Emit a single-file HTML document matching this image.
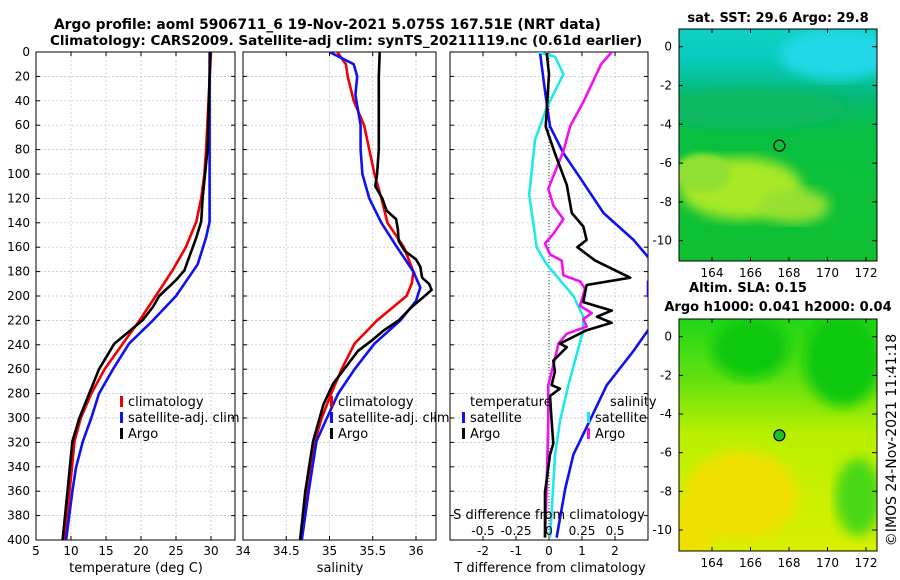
<!DOCTYPE html>
<html><head><meta charset="utf-8"><style>
html,body{margin:0;padding:0;background:#fff}
svg{display:block;font-family:"DejaVu Sans","Liberation Sans",sans-serif}
</style></head><body>
<svg id="s" width="900" height="580" viewBox="0 0 900 580" xmlns="http://www.w3.org/2000/svg">
<defs>
<linearGradient id="sstg" x1="0" y1="0" x2="0" y2="1">
<stop offset="0" stop-color="#10d0c0"/><stop offset="0.12" stop-color="#08ccc0"/><stop offset="0.3" stop-color="#05b870"/><stop offset="0.45" stop-color="#08c040"/><stop offset="1" stop-color="#10c030"/>
</linearGradient>
<linearGradient id="slag" x1="0" y1="0" x2="0" y2="1">
<stop offset="0" stop-color="#20d818"/><stop offset="0.25" stop-color="#60e010"/><stop offset="0.5" stop-color="#b8f000"/><stop offset="1" stop-color="#d8f000"/>
</linearGradient>
<filter id="bl"><feGaussianBlur stdDeviation="6"/></filter>
<filter id="bl2"><feGaussianBlur stdDeviation="3"/></filter>
<clipPath id="c1"><rect x="36" y="52" width="199" height="488"/></clipPath>
<clipPath id="c2"><rect x="243" y="52" width="193" height="488"/></clipPath>
<clipPath id="c3"><rect x="450" y="52" width="198" height="488"/></clipPath>
<clipPath id="cm1"><rect x="679" y="29" width="198" height="232"/></clipPath>
<clipPath id="cm2"><rect x="679" y="319" width="198" height="232"/></clipPath>
</defs>
<g id="root"></g>
</svg>
<script>
// ---- data ----
const depthTicks = [0,20,40,60,80,100,120,140,160,180,200,220,240,260,280,300,320,340,360,380,400];
const tTicks = [5,10,15,20,25,30];
const sTicks = [34,34.5,35,35.5,36];
const dTTicks = [-2,-1,0,1,2];
const dSTicks = [-0.5,-0.25,0,0.25,0.5];
const dSTickLabels = ["-0.5","-0.25","0","0.25","0.5"];

const tArgoDepth = [0,80,120,139,152,160,171,179,187,200,209,220,231,239,260,280,300,319,360,400];
const tArgoVal   = [29.9,29.5,28.8,28.6,27.9,27.4,26.7,26.2,25.0,22.6,21.7,20.2,17.9,16.2,14.0,12.6,11.2,10.2,9.5,8.8];
const tClimDepth = [0,80,100,120,139,160,179,200,220,239,260,280,300,319,360,400];
const tClimVal   = [30.0,29.3,29.05,28.6,27.9,26.4,24.5,22.1,19.8,17.4,14.8,12.9,11.4,10.5,9.8,9.0];
const tSatDepth  = [0,139,152,174,200,220,239,260,280,300,319,341,360,400];
const tSatVal    = [29.8,29.8,29.3,28.1,25.0,21.7,18.3,16.0,14.0,12.9,11.7,10.7,10.2,9.3];

const sArgoDepth = [0,20,80,100,110,120,130,137,145,155,163,170,176,185,190,195,200,209,220,228,237,245,260,272,289,319,360,400];
const sArgoVal   = [35.58,35.57,35.57,35.55,35.53,35.61,35.66,35.77,35.79,35.8,35.87,36.0,36.05,36.07,36.15,36.18,36.1,35.95,35.8,35.63,35.48,35.33,35.17,35.04,34.93,34.81,34.72,34.66];
const sClimDepth = [0,10,20,40,60,80,100,120,140,160,180,190,200,220,239,260,280,300,319,360,400];
const sClimVal   = [35.09,35.19,35.21,35.28,35.4,35.46,35.52,35.6,35.67,35.86,35.97,35.95,35.89,35.55,35.29,35.14,35.02,34.91,34.83,34.74,34.66];
const sSatDepth  = [0,10,20,35,60,80,100,120,140,160,180,193,204,220,239,260,280,300,319,360,400];
const sSatVal    = [35.0,35.28,35.32,35.3,35.36,35.36,35.38,35.46,35.6,35.78,35.97,36.05,36.0,35.82,35.52,35.29,35.1,34.97,34.85,34.76,34.68];

const dTArgoDepth = [1,18,61,83,109,132,143,154,160,171,185,191,205,212,217,222,228,239,242,253,262,273,276,282,302,321,330,361,398];
const dTArgoVal   = [-0.07,0,-0.1,0.18,0.54,0.69,1.04,1.14,0.86,1.4,2.46,1.14,1.04,1.9,1.45,1.9,1.14,0.33,0.54,0.13,0.18,0.08,0.33,0.03,0.08,0.13,0.03,-0.12,-0.12];
const dTSatDepth  = [1,32,61,83,103,132,154,168,178,188,200,215,228,245,273,302,330,358,398];
const dTSatVal    = [-0.27,-0.12,0.03,0.44,0.94,1.65,2.56,3.0,3.3,3.0,3.0,3.3,3.0,2.56,1.75,1.24,0.74,0.49,0.23];
const dSSatDepth  = [0,4,18,46,72,117,146,160,174,200,217,228,273,302,330,398];
const dSSatVal    = [-0.081,0.046,0.109,-0.018,-0.106,-0.15,-0.111,-0.094,-0.018,0.185,0.26,0.26,0.147,0.084,0.046,0.008];
const dSArgoDepth = [0,10,41,61,81,98,112,126,137,149,157,166,171,183,188,194,208,214,219,225,231,239,251,273,302,358,398];
const dSArgoVal   = [0.476,0.395,0.26,0.16,0.11,0.046,-0.005,0.033,0.109,0.033,-0.03,0.008,0.096,0.109,0.235,0.273,0.235,0.324,0.26,0.286,0.134,0.071,0.046,-0.005,-0.005,-0.018,-0.03];

const lonTicks = [164,166,168,170,172];
const latTicks = [0,-2,-4,-6,-8,-10];
const argoLon = 167.5, argoLat = -5.1;

// ---- helpers ----
const NS="http://www.w3.org/2000/svg";
const root=document.getElementById('root');
function mk(tag,attrs,parent,txt){const e=document.createElementNS(NS,tag);for(const k in attrs)e.setAttribute(k,attrs[k]);if(txt!==undefined)e.textContent=txt;(parent||root).appendChild(e);return e;}
const Y0=52,Y1=540;
const yD=d=>Y0+(d/400)*(Y1-Y0);
function lin(d0,d1,p0,p1){return v=>p0+(v-d0)/(d1-d0)*(p1-p0);}
const x1=lin(5,30,36,211), x2=lin(34,36,243,416), x3=lin(-3,3,450,648), x3s=lin(-0.75,0.75,450,648);

function panel(name,px0,px1,ticksX,xf,labels){
  const g=mk('g',{});
  
  
  for(const d of depthTicks){mk('line',{x1:px0,x2:px1,y1:yD(d),y2:yD(d),stroke:'#b8c0d8','stroke-width':0.7,'stroke-dasharray':'2,2'},g);}
  ticksX.forEach(v=>{mk('line',{x1:xf(v),x2:xf(v),y1:Y0,y2:Y1,stroke:'#b8c0d8','stroke-width':0.7,'stroke-dasharray':'2,2'},g);});
  for(const d of depthTicks){mk('line',{x1:px0,x2:px0+4,y1:yD(d),y2:yD(d),stroke:'#000'},g);mk('line',{x1:px1-4,x2:px1,y1:yD(d),y2:yD(d),stroke:'#000'},g);}
  ticksX.forEach(v=>{mk('line',{x1:xf(v),x2:xf(v),y1:Y1-4,y2:Y1,stroke:'#000'},g);mk('line',{x1:xf(v),x2:xf(v),y1:Y0,y2:Y0+4,stroke:'#000'},g);});
  mk('rect',{x:px0,y:Y0,width:px1-px0,height:Y1-Y0,fill:'none',stroke:'#000','stroke-width':1},g);
  if(labels){ticksX.forEach((v,i)=>{mk('text',{x:xf(v),y:555,'font-size':12,'text-anchor':'middle'},g,labels[i]);});}
  return g;
}
function line(g,name,depths,vals,xf,color,clip){
  const pts=depths.map((d,i)=>xf(vals[i]).toFixed(1)+','+yD(d).toFixed(1)).join(' ');
  const p=mk('polyline',{points:pts,fill:'none',stroke:color,'stroke-width':2.6,'stroke-linejoin':'round','clip-path':'url(#'+clip+')'},g);
  
  
}
function legend(g,x,y,entries){
  entries.forEach((e,i)=>{
    if(e[1]){mk('rect',{x:x,y:y+i*16-10,width:3,height:11,fill:e[1]},g);}
    const t=mk('text',{x:x+8,y:y+i*16,'font-size':13},g,e[0]);
    
    
  });
}

let t=mk('text',{x:54,y:29,'font-size':13.8,'font-weight':'bold'},root,'Argo profile: aoml 5906711_6 19-Nov-2021 5.075S 167.51E (NRT data)');

t=mk('text',{x:50,y:45,'font-size':13.5,'font-weight':'bold'},root,'Climatology: CARS2009. Satellite-adj clim: synTS_20211119.nc (0.61d earlier)');


const yl=mk('g',{});

depthTicks.forEach(d=>mk('text',{x:30,y:yD(d)+4,'font-size':12,'text-anchor':'end'},yl,String(d)));

const p1=panel('temperature-panel',36,235,tTicks,x1,tTicks.map(String));
line(p1,'temp-climatology-line',tClimDepth,tClimVal,x1,'#f00000','c1');
line(p1,'temp-satellite-line',tSatDepth,tSatVal,x1,'#1010f0','c1');
line(p1,'temp-argo-line',tArgoDepth,tArgoVal,x1,'#000','c1');
t=mk('text',{x:136,y:572,'font-size':13,'text-anchor':'middle'},p1,'temperature (deg C)');

legend(p1,120,406,[['climatology','#f00000'],['satellite-adj. clim','#1010f0'],['Argo','#000']]);

const p2=panel('salinity-panel',243,436,sTicks,x2,['34','34.5','35','35.5','36']);
line(p2,'sal-climatology-line',sClimDepth,sClimVal,x2,'#f00000','c2');
line(p2,'sal-satellite-line',sSatDepth,sSatVal,x2,'#1010f0','c2');
line(p2,'sal-argo-line',sArgoDepth,sArgoVal,x2,'#000','c2');
t=mk('text',{x:340,y:572,'font-size':13,'text-anchor':'middle'},p2,'salinity');

legend(p2,330,406,[['climatology','#f00000'],['satellite-adj. clim','#1010f0'],['Argo','#000']]);

const p3=panel('difference-panel',450,648,dTTicks,x3,['-2','-1','0','1','2']);
mk('line',{x1:x3(0),x2:x3(0),y1:Y0,y2:Y1,stroke:'#333','stroke-width':1,'stroke-dasharray':'1,2'},p3);
line(p3,'dT-satellite-line',dTSatDepth,dTSatVal,x3,'#1010f0','c3');
line(p3,'dS-satellite-line',dSSatDepth,dSSatVal,x3s,'#20e8e8','c3');
line(p3,'dS-argo-line',dSArgoDepth,dSArgoVal,x3s,'#f010f0','c3');
line(p3,'dT-argo-line',dTArgoDepth,dTArgoVal,x3,'#000','c3');
legend(p3,462,406,[['temperature',null]]);
legend(p3,462,422,[['satellite','#1010f0'],['Argo','#000']]);
legend(p3,602,406,[['salinity',null]]);
legend(p3,587,422,[['satellite','#20e8e8'],['Argo','#f010f0']]);
t=mk('text',{x:549,y:519,'font-size':13,'text-anchor':'middle'},p3,'S difference from climatology');

dSTicks.forEach((v,i)=>mk('text',{x:x3s(v),y:535,'font-size':12,'text-anchor':'middle'},p3,dSTickLabels[i]));
t=mk('text',{x:550,y:572,'font-size':13,'text-anchor':'middle'},p3,'T difference from climatology');


function map(name,clip,top,bottom,lat0y,lat10y,titles,fillId,blobs,markerFill){
  const g=mk('g',{});
  
  const mg=mk('g',{'clip-path':'url(#'+clip+')'},g);
  mk('rect',{x:679,y:top,width:198,height:bottom-top,fill:'url(#'+fillId+')'},mg);
  const lx=lin(164,172,712,866), ly=lin(0,-10,lat0y,lat10y);
  const kx=(866-712)/8, ky=(lat10y-lat0y)/10;
  blobs.forEach(b=>mk('ellipse',{cx:lx(b[0]),cy:ly(b[1]),rx:b[2]*kx,ry:b[3]*ky,fill:b[4],filter:'url(#'+b[5]+')'},mg));
  mk('rect',{x:679,y:top,width:198,height:bottom-top,fill:'none',stroke:'#000'},g);
  lonTicks.forEach(v=>{mk('line',{x1:lx(v),x2:lx(v),y1:bottom-4,y2:bottom,stroke:'#000'},g);mk('line',{x1:lx(v),x2:lx(v),y1:top,y2:top+4,stroke:'#000'},g);mk('text',{x:lx(v),y:bottom+16,'font-size':12,'text-anchor':'middle'},g,String(v));});
  latTicks.forEach(v=>{mk('line',{x1:872,x2:877,y1:ly(v),y2:ly(v),stroke:'#000'},g);mk('line',{x1:679,x2:683,y1:ly(v),y2:ly(v),stroke:'#000'},g);mk('text',{x:672,y:ly(v)+4,'font-size':12,'text-anchor':'end'},g,String(v));});
  const c=mk('circle',{cx:lx(argoLon),cy:ly(argoLat),r:5.5,fill:markerFill,stroke:'#000','stroke-width':1.2},g);
  
  titles.forEach(s=>{const tt=mk('text',{x:s[1],y:s[2],'font-size':13,'font-weight':'bold','text-anchor':'middle'},g,s[0]);});
}
map('sst-map','cm1',29,261,46.7,240.7,[['sat. SST: 29.6 Argo: 29.8',778,22]],'sstg',[
  [170.5,-0.4,3,1.3,'#20d8e8','bl'],[166,-3.2,5,1.0,'#10b860','bl'],
  [165.5,-7.3,3.2,1.6,'#a8e828','bl'],[168.3,-8.2,1.8,0.9,'#98e030','bl'],[163.5,-6.5,1.5,1,'#90e030','bl2']
],'none');
map('sla-map','cm2',319,551,336.7,530,[['Altim. SLA: 0.15',748,292],['Argo h1000: 0.041 h2000: 0.04',778,311]],'slag',[
  [166,-0.6,2,1.6,'#10c810','bl'],[170.8,-1.2,2,2.4,'#10c810','bl'],
  [165.5,-8.2,3,2.3,'#f0e000','bl'],[171.6,-8.3,1.2,2,'#48d818','bl'],[162.8,-10,1.3,1.6,'#f0e000','bl']
],'#20c020');

t=mk('text',{x:0,y:0,'font-size':14,'text-anchor':'middle',transform:'translate(896,440) rotate(-90)'},root,'©IMOS 24-Nov-2021 11:41:18');

</script>
</body></html>
